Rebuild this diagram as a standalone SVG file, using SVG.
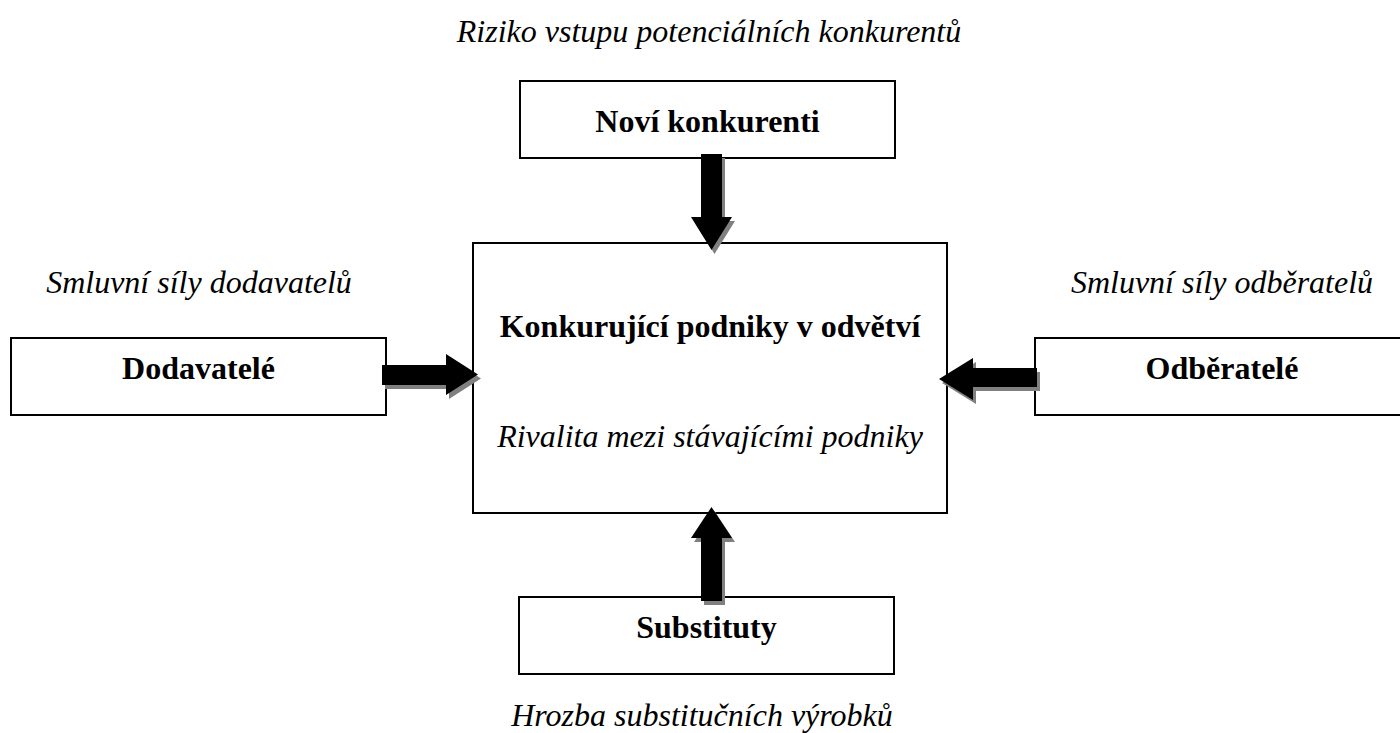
<svg xmlns="http://www.w3.org/2000/svg" width="1400" height="733" viewBox="0 0 1400 733">
<style>
.box{fill:#fff;stroke:#000;stroke-width:2}
.b{font-family:"Liberation Serif","Times New Roman",serif;font-size:32px;font-weight:bold;text-anchor:middle;fill:#000}
.i{font-family:"Liberation Serif","Times New Roman",serif;font-size:32px;font-style:italic;text-anchor:middle;fill:#000}
.sh{fill:#808080}
.ar{fill:#000}
</style>
<rect width="1400" height="733" fill="#fff"/>
<text class="i" x="709" y="42">Riziko vstupu potenciálních konkurentů</text>
<text class="i" x="199" y="293">Smluvní síly dodavatelů</text>
<text class="i" x="1222" y="293">Smluvní síly odběratelů</text>
<text class="i" x="702" y="726">Hrozba substitučních výrobků</text>
<g id="novi">
<rect class="box" x="520" y="81" width="375" height="77"/>
<text class="b" x="707.5" y="132">Noví konkurenti</text>
</g>
<g id="center">
<rect class="box" x="473" y="243" width="474" height="270"/>
<text class="b" x="710" y="337">Konkurující podniky v odvětví</text>
<text class="i" x="710" y="447">Rivalita mezi stávajícími podniky</text>
</g>
<g id="dodavatele">
<rect class="box" x="11" y="338" width="375" height="77"/>
<text class="b" x="198.5" y="379">Dodavatelé</text>
</g>
<g id="odberatele">
<rect class="box" x="1035" y="338" width="380" height="77"/>
<text class="b" x="1222" y="379">Odběratelé</text>
</g>
<g id="substituty">
<rect class="box" x="519" y="597" width="375" height="77"/>
<text class="b" x="706.5" y="638">Substituty</text>
</g>
<g id="connectors">
<g transform="translate(3,4)" class="sh">
<polygon points="701,154 722,154 722,217 732,217 711.5,250 691,217 701,217"/>
<polygon points="701,601 722,601 722,538 732,538 711.5,507 691,538 701,538"/>
<polygon points="382,365 446,365 446,354 478,374.5 446,395 446,385 382,385"/>
<polygon points="1037,368 973,368 973,358 939,379 973,400 973,387 1037,387"/>
</g>
<g class="ar">
<polygon points="701,154 722,154 722,217 732,217 711.5,250 691,217 701,217"/>
<polygon points="701,601 722,601 722,538 732,538 711.5,507 691,538 701,538"/>
<polygon points="382,365 446,365 446,354 478,374.5 446,395 446,385 382,385"/>
<polygon points="1037,368 973,368 973,358 939,379 973,400 973,387 1037,387"/>
</g>
</g>
</svg>
